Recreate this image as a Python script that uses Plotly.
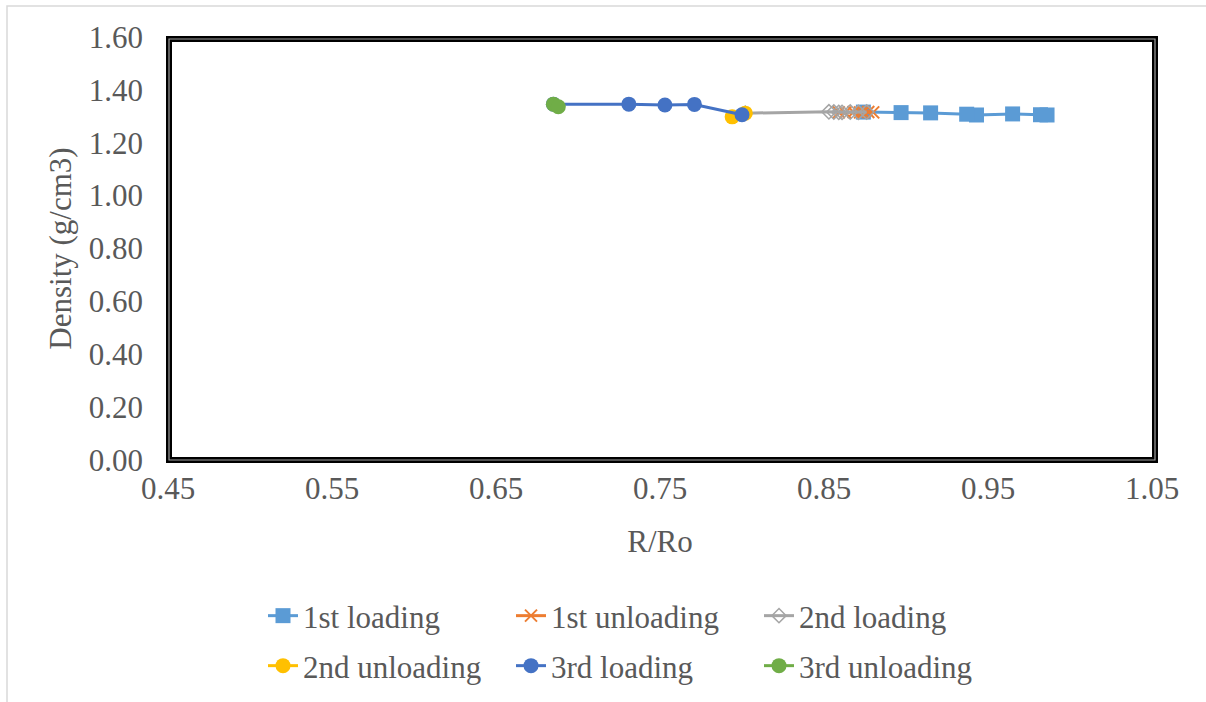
import plotly.graph_objects as go

# Data
l1_x = [0.986, 0.982, 0.965, 0.943, 0.937, 0.915, 0.897, 0.874]
l1_y = [1.305, 1.306, 1.309, 1.305, 1.308, 1.313, 1.314, 1.316]

u1_x = [0.874, 0.880, 0.877, 0.872, 0.868, 0.863, 0.859]
u1_y = [1.316, 1.315, 1.316, 1.315, 1.316, 1.314, 1.315]

l2_x = [0.859, 0.876, 0.871, 0.866, 0.861, 0.856, 0.853, 0.802]
l2_y = [1.315, 1.316, 1.315, 1.316, 1.315, 1.316, 1.317, 1.312]

u2_x = [0.802, 0.794]
u2_y = [1.312, 1.298]

l3_x = [0.800, 0.771, 0.753, 0.731, 0.685]
l3_y = [1.306, 1.345, 1.343, 1.346, 1.346]

u3_x = [0.685, 0.688]
u3_y = [1.346, 1.336]

names = ["1st loading", "1st unloading", "2nd loading", "2nd unloading", "3rd loading", "3rd unloading"]
colors = ["#5B9BD5", "#ED7D31", "#A5A5A5", "#FFC000", "#4472C4", "#70AD47"]

x_ticks = [0.45, 0.55, 0.65, 0.75, 0.85, 0.95, 1.05]
y_ticks = [0.0, 0.2, 0.4, 0.6, 0.8, 1.0, 1.2, 1.4, 1.6]

FONT = "Liberation Serif, Times New Roman, serif"
TXT = "#595959"
FS = 31

# body margin is removed by post_script, so figure pixels == screen pixels
W, H = 1206, 702
L, R, T, B = 168, 1152, 37, 460


def px(p):
    return (p - L) / (R - L)


def py(q):
    return (B - q) / (B - T)


fig = go.Figure()
series = [(l1_x, l1_y), (u1_x, u1_y), (l2_x, l2_y), (u2_x, u2_y), (l3_x, l3_y), (u3_x, u3_y)]
markers = [
    dict(symbol="square", size=15),
    dict(symbol="x-thin", size=12, line=dict(width=2, color=colors[1])),
    dict(symbol="diamond-open", size=11, line=dict(width=1.5, color=colors[2])),
    dict(symbol="circle", size=15),
    dict(symbol="circle", size=15),
    dict(symbol="circle", size=15),
]
for i, ((xs, ys), n, c, m) in enumerate(zip(series, names, colors, markers)):
    mk = dict(m)
    mk["color"] = c
    fig.add_trace(go.Scatter(x=xs, y=ys, name=n, mode="lines+markers",
                             line=dict(color=c, width=3), marker=mk,
                             legend="legend" if i < 3 else "legend2"))

shapes = [
    # outer chart border (light gray)
    dict(type="rect", xref="paper", yref="paper", x0=px(7), x1=px(1230), y0=py(730), y1=py(6),
         line=dict(color="#D9D9D9", width=1.5), fillcolor="rgba(0,0,0,0)", layer="below"),
    # plot frame: thick black with gray center line
    dict(type="rect", xref="paper", yref="paper", x0=px(169), x1=px(1155), y0=py(460), y1=py(39),
         line=dict(color="black", width=6), fillcolor="rgba(0,0,0,0)", layer="above"),
    dict(type="rect", xref="paper", yref="paper", x0=px(169), x1=px(1155), y0=py(460), y1=py(39),
         line=dict(color="#A0A0A0", width=1.2), fillcolor="rgba(0,0,0,0)", layer="above"),
]

leg_common = dict(orientation="h", xanchor="left", yanchor="top",
                  xref="container", yref="container",
                  entrywidth=203, entrywidthmode="pixels",
                  font=dict(size=FS, color=TXT, family=FONT), bgcolor="rgba(0,0,0,0)")

fig.update_layout(
    width=W, height=H,
    margin=dict(l=L, r=W - R, t=T, b=H - B, autoexpand=False),
    paper_bgcolor="white", plot_bgcolor="white",
    font=dict(family=FONT, size=FS, color=TXT),
    xaxis=dict(range=[0.45, 1.05], tickvals=x_ticks, ticktext=[f"{v:.2f}" for v in x_ticks],
               showgrid=False, zeroline=False, showline=False, ticks="",
               ticklabelstandoff=7,
               title=dict(text="R/Ro", font=dict(size=FS, color=TXT), standoff=25),
               tickfont=dict(size=FS, color=TXT)),
    yaxis=dict(range=[0, 1.6], tickvals=y_ticks, ticktext=[f"{v:.2f}" for v in y_ticks],
               showgrid=False, zeroline=False, showline=False, ticks="",
               ticklabelstandoff=24,
               title=dict(text="Density (g/cm3)", font=dict(size=FS, color=TXT), standoff=7),
               tickfont=dict(size=FS, color=TXT)),
    legend=dict(x=263 / W, y=1 - 589 / H, **leg_common),
    legend2=dict(x=263 / W, y=1 - 639 / H, **leg_common),
    shapes=shapes,
    showlegend=True,
)

fig.write_html("out.html", config={"displayModeBar": False},
               post_script="document.body.style.margin='0px';")
